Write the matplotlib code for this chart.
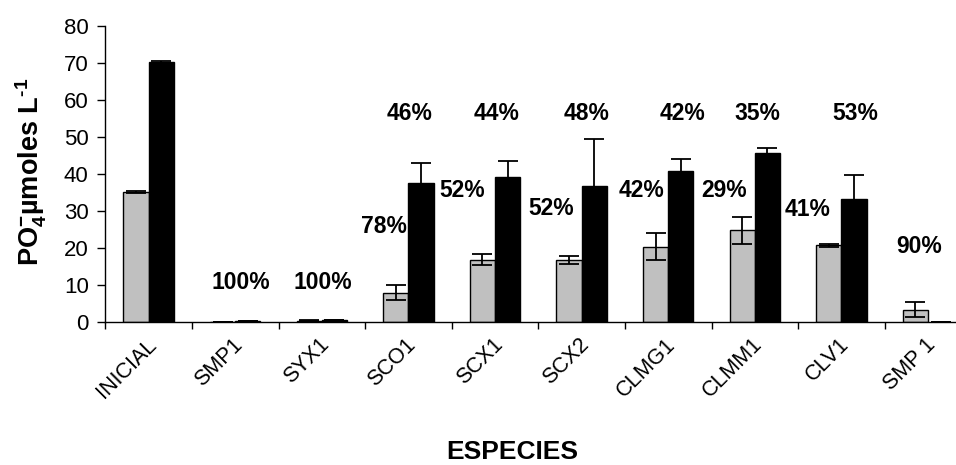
import matplotlib
matplotlib.use("Agg")
import matplotlib.pyplot as plt
import matplotlib.transforms as mtransforms
import numpy as np

plt.rcParams['font.family'] = ['Liberation Sans', 'DejaVu Sans']
plt.rcParams['mathtext.fontset'] = 'custom'
plt.rcParams['mathtext.rm'] = 'Liberation Sans:bold'
plt.rcParams['mathtext.bf'] = 'Liberation Sans:bold'
plt.rcParams['mathtext.default'] = 'bf'

# ---- data ----
categories = ['INICIAL', 'SMP1', 'SYX1', 'SCO1', 'SCX1', 'SCX2',
              'CLMG1', 'CLMM1', 'CLV1', 'SMP 1']
gray_vals = [35.2, 0.0, 0.4, 7.9, 16.8, 16.8, 20.4, 24.8, 20.8, 3.3]
gray_err = [0.3, 0.0, 0.2, 2.0, 1.5, 1.0, 3.7, 3.7, 0.4, 2.0]
black_vals = [70.2, 0.2, 0.6, 37.6, 39.3, 36.8, 40.7, 45.8, 33.2, 0.0]
black_err = [0.3, 0.0, 0.0, 5.5, 4.2, 12.7, 3.4, 1.3, 6.4, 0.0]

pct_labels = ['100%', '100%', '78%', '46%', '52%', '44%', '52%', '48%',
              '42%', '42%', '29%', '35%', '41%', '53%', '90%']
pct_x = [1.06, 2.01, 2.72, 3.01, 3.62, 4.02, 4.65, 5.06,
         5.69, 6.16, 6.65, 7.03, 7.61, 8.16, 8.90]
pct_y = [10.6, 10.6, 25.8, 56.4, 35.5, 56.4, 30.7, 56.4,
         35.5, 56.4, 35.5, 56.4, 30.5, 56.4, 20.4]

yticks = [0, 10, 20, 30, 40, 50, 60, 70, 80]

# ---- figure ----
W, H = 956, 465
fig = plt.figure(figsize=(W / 100, H / 100), dpi=100)
x_left, x_right = 105.3, 971.3
y_bot, y_top = 322, 26
ax = fig.add_axes([x_left / W, 1 - y_bot / H, (x_right - x_left) / W, (y_bot - y_top) / H])

x = np.arange(len(categories))
bw = 0.29
err_kw = dict(ecolor='black', elinewidth=1.3, capsize=7, capthick=1.3)
ax.bar(x - bw / 2, gray_vals, bw, color='#C0C0C0', edgecolor='black', linewidth=1.0,
       yerr=gray_err, error_kw=err_kw, zorder=2)
black_edge = ['black' if v > 0 else 'none' for v in black_vals]
ax.bar(x + bw / 2, black_vals, bw, color='black', edgecolor=black_edge, linewidth=1.0,
       yerr=black_err, error_kw=err_kw, zorder=2)

for t, px, py in zip(pct_labels, pct_x, pct_y):
    ax.text(px, py, t, ha='center', va='center', fontsize=16.5, fontweight='bold',
            zorder=3)

ax.set_xlim(-0.5, len(categories) - 0.5)
ax.set_ylim(0, 80)
ax.set_yticks(yticks)
ax.tick_params(axis='y', labelsize=16, length=6, width=1, direction='out', pad=6)

ax.set_xticks(np.arange(len(categories) + 1) - 0.5)
ax.set_xticklabels([])
ax.tick_params(axis='x', which='major', length=5, width=1, direction='out')
ax.set_xticks(x, categories, minor=True)
ax.tick_params(axis='x', which='minor', length=0, labelsize=15.5, pad=0)
offset = mtransforms.ScaledTranslation(-0.03, -0.12, fig.dpi_scale_trans)
for lab in ax.get_xticklabels(minor=True):
    lab.set_rotation(45)
    lab.set_ha('right')
    lab.set_va('top')
    lab.set_rotation_mode('anchor')
    lab.set_transform(lab.get_transform() + offset)

for s in ['top', 'right']:
    ax.spines[s].set_visible(False)
for s in ['left', 'bottom']:
    ax.spines[s].set_linewidth(1.0)

fig.text(31 / W, 1 - 172 / H, r'PO$_{4}^{-}$µmoles L$^{\text{-}1}$', rotation=90,
         ha='center', va='center', fontsize=19.5, fontweight='bold')
fig.text(512 / W, 1 - 452 / H, 'ESPECIES', ha='center', va='center',
         fontsize=19, fontweight='bold')

fig.savefig('out.png', dpi=100)
